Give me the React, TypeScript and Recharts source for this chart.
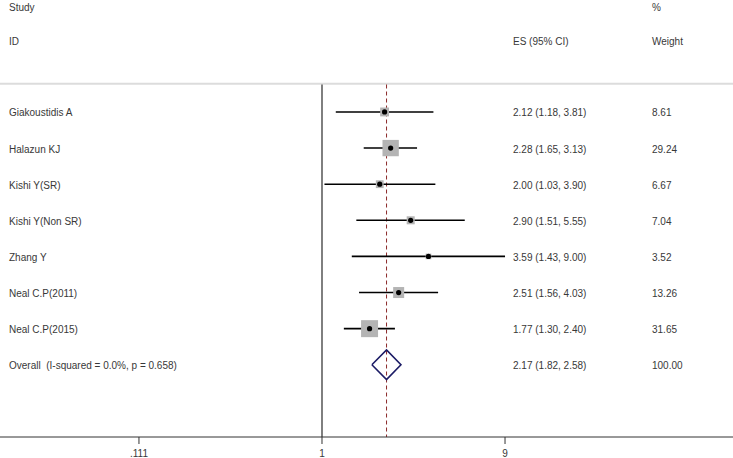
import React from 'react'
import { ScatterChart, Scatter, XAxis, YAxis, ErrorBar, ReferenceLine } from 'recharts'

const studies = ['Giakoustidis A', 'Halazun KJ', 'Kishi Y(SR)', 'Kishi Y(Non SR)', 'Zhang Y', 'Neal C.P(2011)', 'Neal C.P(2015)']
const es = [2.12, 2.28, 2.0, 2.9, 3.59, 2.51, 1.77]
const lower = [1.18, 1.65, 1.03, 1.51, 1.43, 1.56, 1.3]
const upper = [3.81, 3.13, 3.9, 5.55, 9.0, 4.03, 2.4]
const weights = [8.61, 29.24, 6.67, 7.04, 3.52, 13.26, 31.65]

const overallLabel = 'Overall  (I-squared = 0.0%, p = 0.658)'
const overallEs = 2.17
const overallLower = 1.82
const overallUpper = 2.58

const tickValues = [1 / 9, 1, 9]
const tickLabels = ['.111', '1', '9']

const FONT = '"Liberation Sans", Arial, sans-serif'
const TEXT = '#383838'
const COL_NAME = 9
const COL_ES = 513
const COL_W = 652

const fmt = (v: number) => v.toFixed(2)

const studyData = studies.map((name, i) => ({
  x: Math.log(es[i]),
  row: i + 1,
  err: [Math.log(es[i]) - Math.log(lower[i]), Math.log(upper[i]) - Math.log(es[i])],
  weight: weights[i],
}))

const textRows = [
  { x: 0, row: -1.93, name: 'Study', ci: '', w: '%' },
  { x: 0, row: -0.98, name: 'ID', ci: 'ES (95% CI)', w: 'Weight' },
  ...studies.map((name, i) => ({
    x: 0,
    row: i + 1,
    name,
    ci: `${fmt(es[i])} (${fmt(lower[i])}, ${fmt(upper[i])})`,
    w: fmt(weights[i]),
  })),
  {
    x: 0,
    row: studies.length + 1,
    name: overallLabel,
    ci: `${fmt(overallEs)} (${fmt(overallLower)}, ${fmt(overallUpper)})`,
    w: '100.00',
  },
]

const oRow = studies.length + 1
const diamond = [
  { x: Math.log(overallLower), row: oRow },
  { x: Math.log(overallEs), row: oRow - 0.41 },
  { x: Math.log(overallUpper), row: oRow },
  { x: Math.log(overallEs), row: oRow + 0.41 },
  { x: Math.log(overallLower), row: oRow },
]

const StudyMark = (props: any) => {
  const { cx, cy, payload } = props
  const side = 3.02 * Math.sqrt(payload.weight)
  return (
    <g>
      <rect x={cx - side / 2} y={cy - side / 2} width={side} height={side} fill="#b4b4b4" />
      <circle cx={cx} cy={cy} r={2.6} fill="#000" />
    </g>
  )
}

const TextRow = (props: any) => {
  const { cy, payload } = props
  const common = { y: cy + 1, fontSize: 10, fontFamily: FONT, fill: TEXT, dominantBaseline: 'central' as const }
  return (
    <g>
      <text x={COL_NAME} {...common} style={{ whiteSpace: 'pre' }}>{payload.name}</text>
      {payload.ci ? <text x={COL_ES} {...common}>{payload.ci}</text> : null}
      <text x={COL_W} {...common}>{payload.w}</text>
    </g>
  )
}

const lineTop = 0.24
const lnLeft = -3.8655
const lnRight = 4.934

export default function App() {
  return (
    <div style={{ position: 'absolute', left: 0, top: 0, background: '#fff' }}>
      <ScatterChart width={733} height={458} margin={{ top: 0, right: 0, bottom: 0, left: 0 }}>
        <XAxis
          type="number"
          dataKey="x"
          domain={[lnLeft, lnRight]}
          allowDataOverflow
          ticks={tickValues.map((v) => Math.log(v))}
          tickFormatter={(v: number) => tickLabels[tickValues.findIndex((t) => Math.abs(Math.log(t) - v) < 1e-6)]}
          height={21}
          tickSize={7}
          tickMargin={6}
          axisLine={{ stroke: '#333', strokeWidth: 1 }}
          tickLine={{ stroke: '#333', strokeWidth: 1 }}
          tick={{ fontSize: 10, fontFamily: FONT, fill: TEXT }}
        />
        <YAxis type="number" dataKey="row" domain={[-2.1, 10]} reversed hide width={0} />
        <ReferenceLine y={lineTop - 0.02} stroke="#dcdcdc" strokeWidth={2} />
        <ReferenceLine
          segment={[{ x: 0, y: lineTop }, { x: 0, y: 10 }]}
          stroke="#555"
          strokeWidth={1.5}
        />
        <ReferenceLine
          segment={[{ x: Math.log(overallEs), y: lineTop }, { x: Math.log(overallEs), y: 10 }]}
          stroke="#8b2a2a"
          strokeWidth={1}
          strokeDasharray="4 3"
        />
        <Scatter data={textRows} shape={TextRow} isAnimationActive={false} />
        <Scatter data={studyData} shape={StudyMark} isAnimationActive={false}>
          <ErrorBar dataKey="err" direction="x" width={0} stroke="#000" strokeWidth={1.6} />
        </Scatter>
        <Scatter
          data={diamond}
          shape={() => <g />}
          line={{ stroke: '#1c1c66', strokeWidth: 1.6 }}
          lineJointType="linear"
          isAnimationActive={false}
        />
      </ScatterChart>
    </div>
  )
}
